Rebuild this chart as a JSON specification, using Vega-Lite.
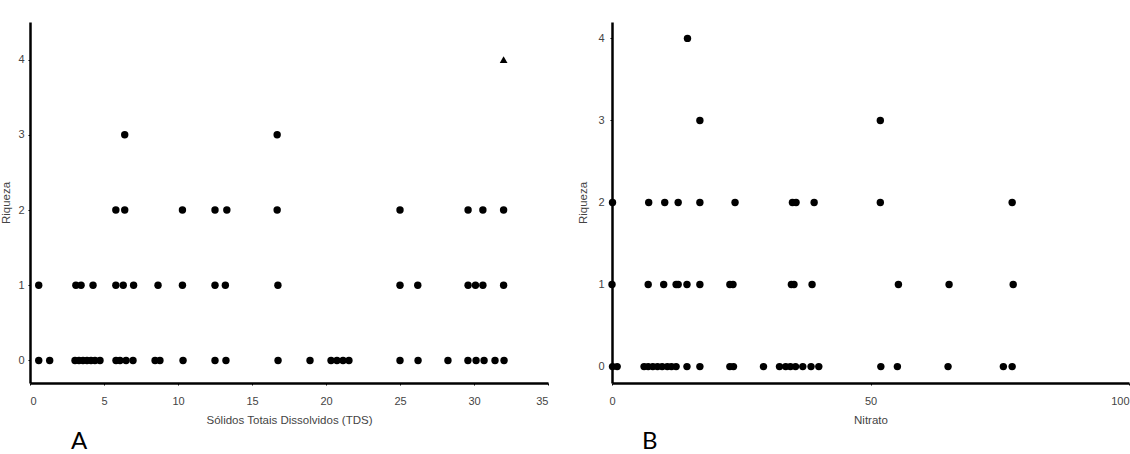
{
  "$schema": "https://vega.github.io/schema/vega-lite/v6.json",
  "padding": {"left": 0, "top": 22, "right": 0, "bottom": 0},
  "background": "white",
  "config": {
    "view": {"stroke": null},
    "concat": {"spacing": 28},
    "axis": {
      "grid": false,
      "domainColor": "black",
      "domainWidth": 2.5,
      "tickColor": "black",
      "tickSize": 2,
      "tickWidth": 1,
      "labelFont": "Liberation Sans",
      "labelFontSize": 11,
      "labelColor": "#444",
      "titleFont": "Liberation Sans",
      "titleFontSize": 11.5,
      "titleFontWeight": "normal",
      "titleColor": "#444"
    }
  },
  "datasets": {
    "tds": [
      {"tds": 0.59, "riqueza": 0}, {"tds": 1.33, "riqueza": 0}, {"tds": 3.04, "riqueza": 0}, {"tds": 3.31, "riqueza": 0},
      {"tds": 3.58, "riqueza": 0}, {"tds": 3.85, "riqueza": 0}, {"tds": 4.12, "riqueza": 0}, {"tds": 4.39, "riqueza": 0},
      {"tds": 4.73, "riqueza": 0}, {"tds": 5.81, "riqueza": 0}, {"tds": 6.08, "riqueza": 0}, {"tds": 6.49, "riqueza": 0},
      {"tds": 6.96, "riqueza": 0}, {"tds": 8.45, "riqueza": 0}, {"tds": 8.78, "riqueza": 0}, {"tds": 10.34, "riqueza": 0},
      {"tds": 12.5, "riqueza": 0}, {"tds": 13.24, "riqueza": 0}, {"tds": 16.76, "riqueza": 0}, {"tds": 18.92, "riqueza": 0},
      {"tds": 20.34, "riqueza": 0}, {"tds": 20.74, "riqueza": 0}, {"tds": 21.15, "riqueza": 0}, {"tds": 21.55, "riqueza": 0},
      {"tds": 25.0, "riqueza": 0}, {"tds": 26.22, "riqueza": 0}, {"tds": 28.24, "riqueza": 0}, {"tds": 29.59, "riqueza": 0},
      {"tds": 30.14, "riqueza": 0}, {"tds": 30.68, "riqueza": 0}, {"tds": 31.42, "riqueza": 0}, {"tds": 32.03, "riqueza": 0},
      {"tds": 0.59, "riqueza": 1}, {"tds": 3.1, "riqueza": 1}, {"tds": 3.45, "riqueza": 1}, {"tds": 4.26, "riqueza": 1},
      {"tds": 5.8, "riqueza": 1}, {"tds": 6.3, "riqueza": 1}, {"tds": 7.0, "riqueza": 1}, {"tds": 8.65, "riqueza": 1},
      {"tds": 10.3, "riqueza": 1}, {"tds": 12.5, "riqueza": 1}, {"tds": 13.2, "riqueza": 1}, {"tds": 16.75, "riqueza": 1},
      {"tds": 25.0, "riqueza": 1}, {"tds": 26.2, "riqueza": 1}, {"tds": 29.6, "riqueza": 1}, {"tds": 30.1, "riqueza": 1},
      {"tds": 30.6, "riqueza": 1}, {"tds": 32.0, "riqueza": 1},
      {"tds": 5.8, "riqueza": 2}, {"tds": 6.4, "riqueza": 2}, {"tds": 10.3, "riqueza": 2}, {"tds": 12.5, "riqueza": 2},
      {"tds": 13.3, "riqueza": 2}, {"tds": 16.7, "riqueza": 2}, {"tds": 25.0, "riqueza": 2}, {"tds": 29.6, "riqueza": 2},
      {"tds": 30.6, "riqueza": 2}, {"tds": 32.0, "riqueza": 2},
      {"tds": 6.4, "riqueza": 3}, {"tds": 16.7, "riqueza": 3},
      {"tds": 32.0, "riqueza": 4}
    ],
    "nitrato": [
      {"nitrato": 0.1, "riqueza": 0}, {"nitrato": 1.0, "riqueza": 0}, {"nitrato": 6.2, "riqueza": 0}, {"nitrato": 7.0, "riqueza": 0},
      {"nitrato": 7.9, "riqueza": 0}, {"nitrato": 8.8, "riqueza": 0}, {"nitrato": 9.7, "riqueza": 0}, {"nitrato": 10.7, "riqueza": 0},
      {"nitrato": 11.5, "riqueza": 0}, {"nitrato": 12.4, "riqueza": 0}, {"nitrato": 14.5, "riqueza": 0}, {"nitrato": 17.0, "riqueza": 0},
      {"nitrato": 22.8, "riqueza": 0}, {"nitrato": 23.5, "riqueza": 0}, {"nitrato": 29.3, "riqueza": 0}, {"nitrato": 32.4, "riqueza": 0},
      {"nitrato": 33.6, "riqueza": 0}, {"nitrato": 34.5, "riqueza": 0}, {"nitrato": 35.5, "riqueza": 0}, {"nitrato": 36.9, "riqueza": 0},
      {"nitrato": 38.5, "riqueza": 0}, {"nitrato": 40.0, "riqueza": 0}, {"nitrato": 52.0, "riqueza": 0}, {"nitrato": 55.2, "riqueza": 0},
      {"nitrato": 65.0, "riqueza": 0}, {"nitrato": 75.7, "riqueza": 0}, {"nitrato": 77.4, "riqueza": 0},
      {"nitrato": 0.0, "riqueza": 1}, {"nitrato": 7.0, "riqueza": 1}, {"nitrato": 10.0, "riqueza": 1}, {"nitrato": 12.4, "riqueza": 1},
      {"nitrato": 12.8, "riqueza": 1}, {"nitrato": 14.5, "riqueza": 1}, {"nitrato": 17.0, "riqueza": 1}, {"nitrato": 22.8, "riqueza": 1},
      {"nitrato": 23.4, "riqueza": 1}, {"nitrato": 34.7, "riqueza": 1}, {"nitrato": 35.2, "riqueza": 1}, {"nitrato": 38.7, "riqueza": 1},
      {"nitrato": 55.4, "riqueza": 1}, {"nitrato": 65.2, "riqueza": 1}, {"nitrato": 77.6, "riqueza": 1},
      {"nitrato": 0.1, "riqueza": 2}, {"nitrato": 7.1, "riqueza": 2}, {"nitrato": 10.2, "riqueza": 2}, {"nitrato": 12.8, "riqueza": 2},
      {"nitrato": 17.0, "riqueza": 2}, {"nitrato": 23.8, "riqueza": 2}, {"nitrato": 34.9, "riqueza": 2}, {"nitrato": 35.6, "riqueza": 2},
      {"nitrato": 39.1, "riqueza": 2}, {"nitrato": 51.9, "riqueza": 2}, {"nitrato": 77.4, "riqueza": 2},
      {"nitrato": 17.0, "riqueza": 3}, {"nitrato": 51.9, "riqueza": 3},
      {"nitrato": 14.6, "riqueza": 4}
    ]
  },
  "hconcat": [
    {
      "width": 518,
      "height": 361,
      "data": {"name": "tds"},
      "title": {"text": "A", "orient": "bottom", "anchor": "start", "frame": "group", "dx": 41, "offset": 4, "fontSize": 24, "font": "Lato", "fontWeight": "normal", "color": "black"},
      "layer": [
        {
          "transform": [{"filter": "datum.riqueza < 4"}],
          "mark": {"type": "circle", "size": 55, "color": "black", "opacity": 1},
          "encoding": {
            "x": {"field": "tds", "type": "quantitative", "scale": {"domain": [0, 35], "nice": false, "zero": false},
                  "axis": {"values": [0, 5, 10, 15, 20, 25, 30, 35], "format": "d", "title": "Sólidos Totais Dissolvidos (TDS)", "labelPadding": 10, "titlePadding": 8}},
            "y": {"field": "riqueza", "type": "quantitative", "scale": {"domain": [-0.3, 4.5], "nice": false, "zero": false},
                  "axis": {"values": [0, 1, 2, 3, 4], "format": "d", "title": "Riqueza", "labelPadding": 4, "titlePadding": 6}}
          }
        },
        {
          "transform": [{"filter": "datum.riqueza >= 4"}],
          "mark": {"type": "point", "shape": "triangle-up", "filled": true, "size": 60, "color": "black", "opacity": 1},
          "encoding": {
            "x": {"field": "tds", "type": "quantitative"},
            "y": {"field": "riqueza", "type": "quantitative"}
          }
        }
      ]
    },
    {
      "width": 517,
      "height": 361,
      "data": {"name": "nitrato"},
      "title": {"text": "B", "orient": "bottom", "anchor": "start", "frame": "group", "dx": 30, "offset": 4, "fontSize": 24, "font": "Lato", "fontWeight": "normal", "color": "black"},
      "mark": {"type": "circle", "size": 55, "color": "black", "opacity": 1},
      "encoding": {
        "x": {"field": "nitrato", "type": "quantitative", "scale": {"domain": [0, 100], "nice": false, "zero": false},
              "axis": {"values": [0, 50, 100], "format": "d", "title": "Nitrato", "labelPadding": 10, "titlePadding": 8,
                       "labelAlign": {"condition": {"test": "datum.value == 100", "value": "right"}, "value": "center"}}},
        "y": {"field": "riqueza", "type": "quantitative", "scale": {"domain": [-0.2, 4.2], "nice": false, "zero": false},
              "axis": {"values": [0, 1, 2, 3, 4], "format": "d", "title": "Riqueza", "labelPadding": 6, "titlePadding": 9}}
      }
    }
  ]
}
